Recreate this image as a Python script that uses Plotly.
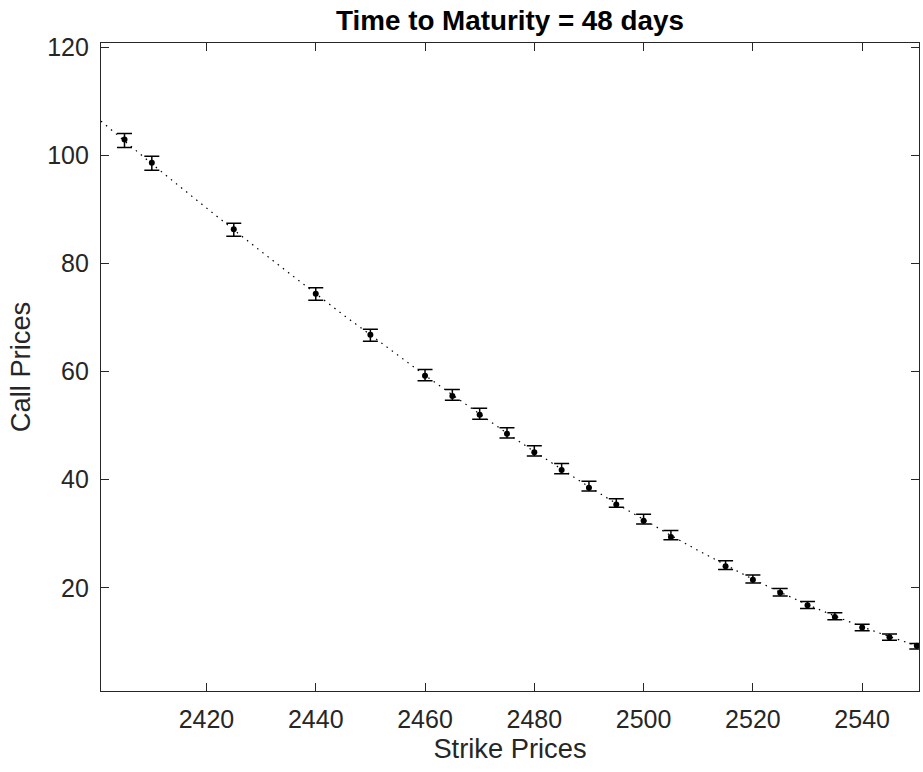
import plotly.graph_objects as go

# Observed option data
strikes = [2405, 2410, 2425, 2440, 2450, 2460, 2465, 2470, 2475, 2480, 2485, 2490,
           2495, 2500, 2505, 2515, 2520, 2525, 2530, 2535, 2540, 2545, 2550]
prices = [102.9, 98.6, 86.3, 74.4, 66.8, 59.2, 55.5, 52.0, 48.5, 45.1, 41.8, 38.5,
          35.4, 32.4, 29.4, 24.0, 21.5, 19.1, 16.8, 14.6, 12.7, 10.9, 9.3]
upper = [104.0, 99.8, 87.4, 75.5, 67.8, 60.4, 56.7, 53.2, 49.6, 46.3, 43.0, 39.7,
         36.5, 33.6, 30.6, 25.0, 22.4, 19.9, 17.5, 15.4, 13.3, 11.5, 9.7]
lower = [101.4, 97.2, 85.0, 73.2, 65.6, 58.3, 54.7, 51.2, 47.7, 44.4, 41.1, 37.9,
         34.9, 31.8, 28.9, 23.4, 20.9, 18.5, 16.2, 14.1, 12.1, 10.3, 8.7]

# Fitted model curve
curve_strikes = [2400.7, 2405, 2410, 2415, 2420, 2425, 2430, 2435, 2440, 2445, 2450,
                 2455, 2460, 2465, 2470, 2475, 2480, 2485, 2490, 2495, 2500, 2505,
                 2510, 2515, 2520, 2525, 2530, 2535, 2540, 2545, 2550]
curve_prices = [106.3, 102.6, 98.4, 94.3, 90.2, 86.2, 82.2, 78.3, 74.4, 70.5, 66.8,
                63.0, 59.3, 55.7, 52.1, 48.6, 45.2, 41.9, 38.7, 35.6, 32.6, 29.7,
                26.9, 24.2, 21.6, 19.2, 16.9, 14.8, 12.8, 11.0, 9.3]

xticks = [2420, 2440, 2460, 2480, 2500, 2520, 2540]
yticks = [20, 40, 60, 80, 100, 120]

err_plus = [u - p for u, p in zip(upper, prices)]
err_minus = [p - l for p, l in zip(prices, lower)]

AX = "#262626"
FONT = "Liberation Sans, Arial, Helvetica, sans-serif"

fig = go.Figure()
fig.add_trace(go.Scatter(
    x=curve_strikes, y=curve_prices, mode="lines",
    line=dict(color="black", width=1.2, dash="1.5px,5px"),
    hoverinfo="skip", showlegend=False))
fig.add_trace(go.Scatter(
    x=strikes, y=prices, mode="markers",
    marker=dict(color="black", size=6, symbol="circle"),
    error_y=dict(type="data", symmetric=False, array=err_plus, arrayminus=err_minus,
                 color="black", thickness=1.5, width=7.5),
    showlegend=False))

fig.update_layout(
    width=923, height=772,
    margin=dict(l=100.5, r=4, t=43, b=81),
    paper_bgcolor="white", plot_bgcolor="white",
    font=dict(family=FONT, color=AX, size=25),
    title=dict(text="<b>Time to Maturity = 48 days</b>", x=0.5525, xanchor="center",
               y=1 - 20.5 / 772, yanchor="middle",
               font=dict(family=FONT, size=27.8, color="black")),
    xaxis=dict(range=[2400.7, 2550.4], tickvals=xticks, ticks="inside", ticklen=8,
               tickwidth=1, tickcolor=AX, showline=True, linecolor=AX, linewidth=1.2,
               mirror="ticks", showgrid=False, zeroline=False,
               tickfont=dict(size=25, color=AX), ticklabelstandoff=6,
               title=dict(text="Strike Prices", font=dict(size=27.3, color=AX), standoff=6)),
    yaxis=dict(range=[0.94, 120.74], tickvals=yticks, ticks="inside", ticklen=8,
               tickwidth=1, tickcolor=AX, showline=True, linecolor=AX, linewidth=1.2,
               mirror="ticks", showgrid=False, zeroline=False,
               tickfont=dict(size=25, color=AX), ticklabelstandoff=6,
               title=dict(text="Call Prices", font=dict(size=27.3, color=AX), standoff=8)),
)

fig.write_html("out.html")
